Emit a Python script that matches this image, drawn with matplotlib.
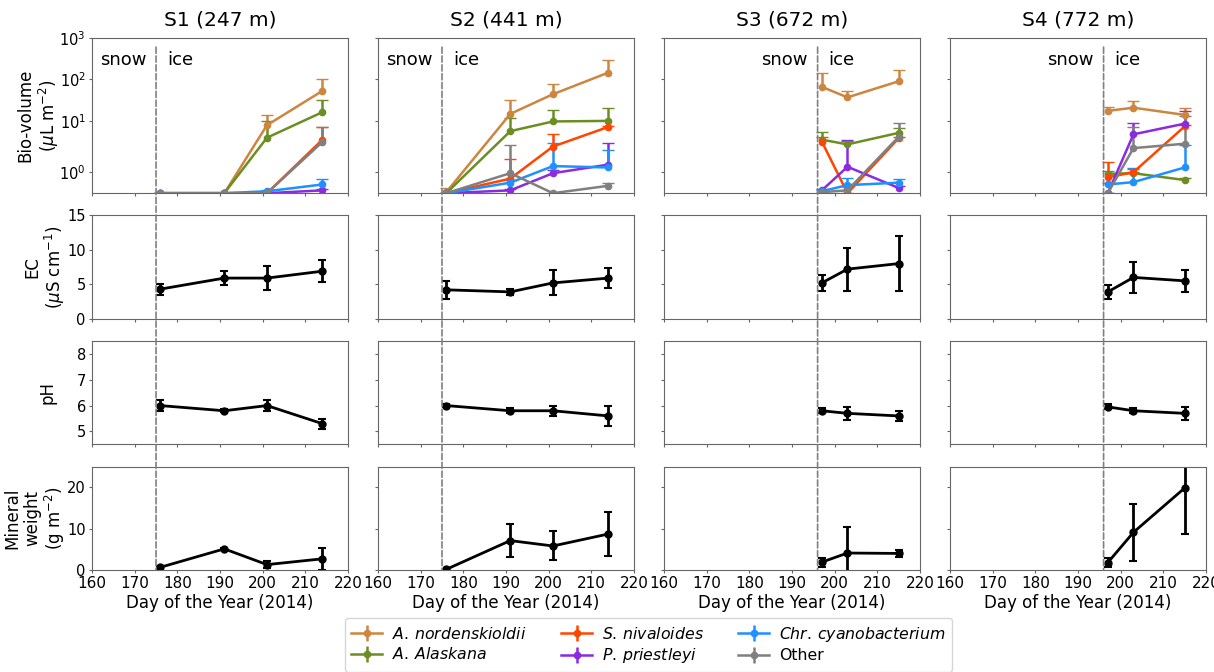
import numpy as np
import matplotlib.pyplot as plt
from matplotlib.patches import ConnectionPatch
from matplotlib.ticker import NullLocator

# sites and sampling days
sites = ['S1 (247 m)', 'S2 (441 m)', 'S3 (672 m)', 'S4 (772 m)']
days = [[176, 191, 201, 214], [176, 191, 201, 214], [197, 203, 215], [197, 203, 215]]
melt_day = [175, 175, 196, 196]

species = [r'$A.\,nordenskioldii$', r'$A.\,Alaskana$', r'$S.\,nivaloides$',
           r'$P.\,priestleyi$', r'$Chr.\,cyanobacterium$', 'Other']
colors = ['peru', 'olivedrab', 'orangered', 'blueviolet', 'dodgerblue', 'grey']

# bio-volume (uL m-2), mean and upper error, per site
nord_mean = [[0.61, 0.61, 8.2, 53], [0.62, 15, 44, 146], [66, 37, 90], [17.7, 21, 14.2]]
nord_up = [[0, 0, 6, 50], [0.05, 17, 33, 144], [80, 16, 80], [4.3, 10, 6.8]]
alas_mean = [[0.61, 0.61, 4.3, 16.5], [0.61, 6.0, 10, 10.3], [3.9, 3.1, 5.5], [0.95, 0.97, 0.80]]
alas_up = [[0, 0, 6, 15], [0, 6, 9, 10], [1.9, 0.5, 1.5], [0.1, 0.05, 0.05]]
niv_mean = [[0.61, 0.61, 0.61, 3.9], [0.61, 0.83, 2.8, 7.5], [3.55, 0.61, 4.2], [0.86, 1.0, 7.7]]
niv_up = [[0, 0, 0, 3.4], [0, 0.8, 2.3, 0.5], [0.95, 0, 0.3], [0.55, 0.1, 0.5]]
pri_mean = [[0.61, 0.61, 0.61, 0.64], [0.61, 0.64, 0.97, 1.3], [0.64, 1.2, 0.67], [0.61, 5.1, 8.9]]
pri_up = [[0, 0, 0, 0.02], [0, 0.02, 0.1, 2.0], [0.02, 2.7, 0.03], [0, 4.0, 9]]
cya_mean = [[0.61, 0.61, 0.63, 0.72], [0.61, 0.75, 1.23, 1.17], [0.63, 0.71, 0.75], [0.72, 0.76, 1.17]]
cya_up = [[0, 0, 0.01, 0.11], [0, 0.05, 2.1, 1.2], [0.02, 0.13, 0.08], [0.02, 0.4, 1.9]]
oth_mean = [[0.61, 0.61, 0.61, 3.5], [0.61, 0.97, 0.61, 0.70], [0.62, 0.64, 4.5], [0.61, 2.6, 3.2]]
oth_up = [[0, 0, 0, 3.8], [0, 2.0, 0, 0.05], [0, 0.05, 4.5], [0, 4.9, 10.4]]

bio_mean = [nord_mean, alas_mean, niv_mean, pri_mean, cya_mean, oth_mean]
bio_up = [nord_up, alas_up, niv_up, pri_up, cya_up, oth_up]

# EC (uS cm-1)
ec_mean = [[4.3, 5.9, 5.9, 6.9], [4.2, 3.9, 5.2, 5.9], [5.2, 7.2, 8.0], [3.9, 6.0, 5.5]]
ec_err = [[0.8, 1.0, 1.7, 1.6], [1.3, 0.4, 1.8, 1.4], [1.2, 3.1, 4.0], [1.0, 2.3, 1.6]]
# pH
ph_mean = [[6.0, 5.8, 6.0, 5.3], [6.0, 5.8, 5.8, 5.6], [5.8, 5.7, 5.6], [5.95, 5.8, 5.7]]
ph_err = [[0.2, 0.05, 0.2, 0.2], [0.05, 0.1, 0.2, 0.4], [0.1, 0.25, 0.2], [0.1, 0.1, 0.25]]
# mineral weight (g m-2)
min_mean = [[0.65, 5.1, 1.3, 2.7], [0.15, 7.1, 5.8, 8.7], [1.9, 4.1, 4.0], [1.8, 9.1, 19.8]]
min_err = [[0.3, 0.3, 0.8, 2.6], [0.2, 4.0, 3.5, 5.3], [1.1, 6.2, 0.9], [1.1, 6.9, 11.0]]

plt.rcParams['axes.edgecolor'] = '0.4'
plt.rcParams['xtick.color'] = '0.4'
plt.rcParams['ytick.color'] = '0.4'
plt.rcParams['xtick.labelcolor'] = 'black'
plt.rcParams['ytick.labelcolor'] = 'black'
plt.rcParams['xtick.labelsize'] = 11
plt.rcParams['ytick.labelsize'] = 10.5
plt.rcParams['xtick.major.size'] = 2.5
plt.rcParams['ytick.major.size'] = 2.5
plt.rcParams['xtick.major.pad'] = 2
plt.rcParams['ytick.major.pad'] = 2

fig, axes = plt.subplots(4, 4, figsize=(12.14, 6.72), dpi=100, sharex=True, sharey='row',
                         gridspec_kw={'height_ratios': [1.5, 1, 1, 1]})
fig.subplots_adjust(left=0.0758, right=0.9934, top=0.9435, bottom=0.1518, wspace=0.117, hspace=0.19)

# y scale of the bio-volume row
c = 0.434


def fwd(v):
    return np.log10(np.maximum(np.asarray(v, dtype=float) - c, 1e-9))


def inv(t):
    return 10 ** np.asarray(t, dtype=float) + c


for j in range(4):
    d = days[j]

    # BIO-VOLUME
    ax = axes[0, j]
    ax.set_yscale('function', functions=(fwd, inv))
    for k in range(6):
        m = bio_mean[k][j]
        cont = ax.errorbar(d, m, yerr=[np.zeros(len(m)), bio_up[k][j]], fmt='-o', color=colors[k],
                           ms=4.5, lw=1.8, capsize=4, label=species[k])
        cont[1][0].set_visible(False)
    ax.set_title(sites[j], fontsize=14.5, pad=9)
    trans = ax.get_xaxis_transform()
    ax.text(melt_day[j] - 2.3, 0.855, 'snow', transform=trans, ha='right', va='center', fontsize=13)
    ax.text(melt_day[j] + 2.6, 0.855, 'ice', transform=trans, ha='left', va='center', fontsize=13)

    # EC
    axes[1, j].errorbar(d, ec_mean[j], yerr=ec_err[j], fmt='-o', color='k', ms=5, lw=2, capsize=3, capthick=1.5)
    # pH
    axes[2, j].errorbar(d, ph_mean[j], yerr=ph_err[j], fmt='-o', color='k', ms=5, lw=2, capsize=3, capthick=1.5)
    # MINERAL
    axes[3, j].errorbar(d, min_mean[j], yerr=min_err[j], fmt='-o', color='k', ms=5, lw=2, capsize=3, capthick=1.5)
    axes[3, j].set_xlabel('Day of the Year (2014)', fontsize=12, labelpad=2)

axes[0, 0].set_ylim(0.61, 1000)
axes[0, 0].set_yticks([1, 10, 100, 1000])
axes[0, 0].set_yticklabels([r'$10^{0}$', r'$10^{1}$', r'$10^{2}$', r'$10^{3}$'])
for j in range(4):
    axes[0, j].yaxis.set_minor_locator(NullLocator())

axes[1, 0].set_ylim(0, 15)
axes[1, 0].set_yticks([0, 5, 10, 15])
axes[2, 0].set_ylim(4.5, 8.5)
axes[2, 0].set_yticks([5, 6, 7, 8])
axes[3, 0].set_ylim(0, 25)
axes[3, 0].set_yticks([0, 10, 20])
axes[3, 0].set_xlim(160, 220)
axes[3, 0].set_xticks(np.arange(160, 221, 10))

axes[0, 0].set_ylabel('Bio-volume\n($\\mu$L m$^{-2}$)', fontsize=12, labelpad=-1, linespacing=1.1)
axes[1, 0].set_ylabel('EC\n($\\mu$S cm$^{-1}$)', fontsize=12, labelpad=0, linespacing=1.1)
axes[2, 0].set_ylabel('pH', fontsize=12, labelpad=14)
axes[3, 0].set_ylabel('Mineral\nweight\n(g m$^{-2}$)', fontsize=12, labelpad=0, linespacing=1.1)

# snow / ice boundary across all rows
for j in range(4):
    con = ConnectionPatch(xyA=(melt_day[j], 600), coordsA='data', axesA=axes[0, j],
                          xyB=(melt_day[j], 0), coordsB='data', axesB=axes[3, j],
                          linestyle='--', color='grey', lw=1.2)
    fig.add_artist(con)

handles, labels = axes[0, 0].get_legend_handles_labels()
fig.legend(handles, labels, loc='upper center', bbox_to_anchor=(0.534, 0.08), ncol=3,
           fontsize=11.3, columnspacing=2.2, borderaxespad=0, handletextpad=0.6,
           labelspacing=0.3)

plt.savefig('out.png', dpi=100)
